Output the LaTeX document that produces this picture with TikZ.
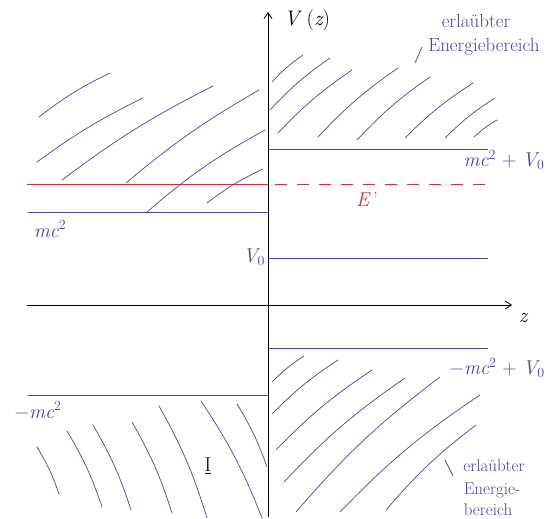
\documentclass[tikz,border=0pt]{standalone}
\usepackage{fontspec}
\usetikzlibrary{arrows.meta}
\definecolor{pen}{HTML}{4B4399}
\definecolor{redpen}{HTML}{C8323A}
\tikzset{
  axis/.style={black, line width=0.8pt, -{Straight Barb[length=6pt,width=8pt]}},
  level/.style={pen, line width=0.8pt},
  hatch/.style={pen, line width=0.7pt, line cap=round},
  lbl/.style={pen, font=\fontsize{20}{22}\selectfont\itshape, inner sep=0pt},
  note/.style={pen, font=\fontsize{19}{21}\selectfont, inner sep=0pt},
  smallnote/.style={pen, font=\fontsize{17}{19}\selectfont, inner sep=0pt},
}
\begin{document}
\begin{tikzpicture}[x=1pt,y=-1pt]
\useasboundingbox (0,0) rectangle (547,519);
% axes
\coordinate (vb) at (268,517);
\coordinate (vt) at (268,12);
\coordinate (hl) at (27,305);
\coordinate (hr) at (512,305);
\draw[axis] (vb) -- (vt);
\draw[axis] (hl) -- (hr);
\node[black, font=\fontsize{21}{23}\selectfont\itshape, inner sep=0pt] (vz) at (307,20) {V\ \upshape(\itshape z\upshape)};
\node[black, font=\fontsize{21}{23}\selectfont\itshape, inner sep=0pt] (zz) at (523,318) {z};
% levels
\draw[level] (28,212) -- (268,212);
\draw[level] (268,149) -- (488,149);
\draw[level] (268,258) -- (488,258);
\draw[level] (268,348) -- (488,348);
\draw[level] (28,395) -- (268,395);
\draw[redpen, line width=0.8pt] (27,184) -- (268,184);
\draw[redpen, line width=0.8pt, dash pattern=on 12pt off 10pt] (275,184) -- (490,184);
% labels
\node[lbl] (l1) at (50,229) {mc\textsuperscript{\upshape 2}};
\node[lbl] (l2) at (504,160) {mc\textsuperscript{\upshape 2}\upshape\ + \itshape V\textsubscript{\upshape 0}};
\node[lbl, redpen] (l3) at (367,200) {E\upshape\,'};
\node[lbl] (l4) at (254,257) {V\textsubscript{\upshape 0}};
\node[lbl, anchor=east] (l5) at (545,368) {\upshape −\itshape mc\textsuperscript{\upshape 2}\upshape\ + \itshape V\textsubscript{\upshape 0}};
\node[lbl] (l6) at (38,410) {\upshape −\itshape mc\textsuperscript{\upshape 2}};
\node[black, font=\fontsize{20}{22}\selectfont, inner sep=0pt] (one) at (208,466) {\underline{I}};
\node[note] (n1a) at (476,21) {erlaübter};
\node[note] (n1b) at (484,47) {Energiebereich};
\node[smallnote] (n2a) at (494,466) {erlaübter};
\node[smallnote] (n2b) at (492,490) {Energie-};
\node[smallnote] (n2c) at (488,510) {bereich};
\draw[hatch] (415,63) -- (422,47);
\draw[hatch] (445,460) -- (453,476);
% top-left hatching
\draw[hatch] (39,117) to[bend left=6] (110,73);
\draw[hatch] (37,162) to[bend left=5] (143,98);
\draw[hatch] (62,180) to[bend left=5] (213,86);
\draw[hatch] (126,183) to[bend left=5] (259,90);
\draw[hatch] (147,212) to[bend left=6] (265,130);
\draw[hatch] (207,203) to[bend left=6] (263,169);
% top-right hatching
\draw[hatch] (272,82) to[bend left=6] (303,55);
\draw[hatch] (270,110) to[bend left=6] (330,58);
\draw[hatch] (278,133) to[bend left=6] (352,70);
\draw[hatch] (318,137) to[bend left=6] (398,68);
\draw[hatch] (357,140) to[bend left=6] (430,77);
\draw[hatch] (405,138) to[bend left=6] (473,83);
\draw[hatch] (445,138) to[bend left=6] (495,98);
\draw[hatch] (474,137) to[bend left=6] (497,120);
% bottom-left hatching
\draw[hatch] (37,447) to[bend left=6] (59,494);
\draw[hatch] (67,431) to[bend left=6] (102,507);
\draw[hatch] (93,425) to[bend left=6] (131,510);
\draw[hatch] (132,422) to[bend left=6] (172,513);
\draw[hatch] (159,406) to[bend left=6] (207,518);
\draw[hatch] (201,401) to[bend left=6] (262,518);
\draw[hatch] (237,404) to[bend left=6] (267,467);
% bottom-right hatching
\draw[hatch] (272,382) to[bend left=6] (304,356);
\draw[hatch] (272,414) to[bend left=6] (338,360);
\draw[hatch] (276,450) to[bend left=6] (372,370);
\draw[hatch] (284,482) to[bend left=6] (405,378);
\draw[hatch] (296,512) to[bend left=6] (440,377);
\draw[hatch] (340,512) to[bend left=6] (480,395);
\draw[hatch] (386,510) to[bend left=6] (476,425);
\end{tikzpicture}
\end{document}
